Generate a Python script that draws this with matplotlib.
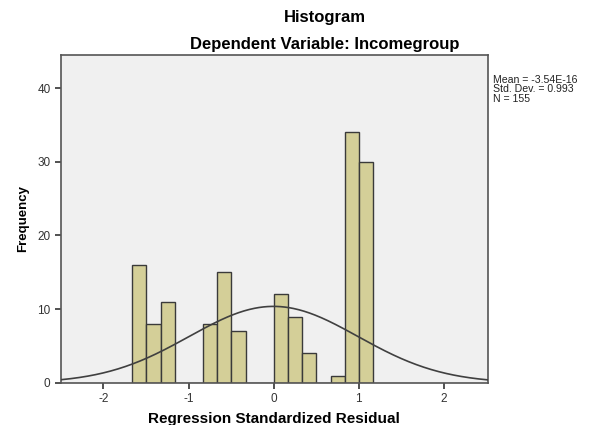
import numpy as np
import matplotlib
matplotlib.use("Agg")
import matplotlib.pyplot as plt

plt.rcParams['font.family'] = ['Liberation Sans', 'DejaVu Sans']
plt.rcParams['axes.unicode_minus'] = False

# histogram counts (bin width ~1/6)
first_edge = -1.662
bin_width = 0.1667
counts = [16, 8, 11, 0, 0, 8, 15, 7, 0, 0, 12, 9, 4, 0, 1, 34, 30]
mean = -3.54e-16
std = 0.993
n = 155
stats_lines = ['Mean = -3.54E-16', 'Std. Dev. = 0.993', 'N = 155']

edges = first_edge + bin_width * np.arange(len(counts) + 1)

fig = plt.figure(figsize=(5.92, 4.25), dpi=100)
ax = fig.add_axes([0.103, 0.099, 0.721, 0.772])
ax.set_facecolor('#f0f0f0')

ax.bar(edges[:-1], counts, width=bin_width, align='edge',
       color='#d4cf98', edgecolor='#3a3a3a', linewidth=1.0, zorder=2)

xs = np.linspace(-2.5, 2.55, 400)
pdf = np.exp(-0.5 * ((xs - mean) / std) ** 2) / (std * np.sqrt(2 * np.pi))
ax.plot(xs, n * bin_width * pdf, color='#404040', linewidth=1.2, zorder=3)

ax.set_xlim(-2.5, 2.52)
ax.set_ylim(0, 44.5)
ax.set_xticks([-2, -1, 0, 1, 2])
ax.set_yticks([0, 10, 20, 30, 40])
ax.tick_params(labelsize=8.5, colors='#333333', length=4, width=1.2)
for s in ax.spines.values():
    s.set_color('#555555')
    s.set_linewidth(1.2)

ax.set_xlabel('Regression Standardized Residual', fontsize=11, fontweight='bold', labelpad=5)
ax.set_ylabel('Frequency', fontsize=9.5, fontweight='bold', labelpad=6)

fig.text(0.549, 0.958, 'Histogram', ha='center', va='center', fontsize=12, fontweight='bold')
fig.text(0.549, 0.896, 'Dependent Variable: Incomegroup', ha='center', va='center',
         fontsize=12, fontweight='bold')
# legend-like stats block, one line every ~9.3 px
for i, line in enumerate(stats_lines):
    fig.text(0.833, 0.812 - i * 0.022, line, ha='left', va='center',
             fontsize=7.6, color='#222222')

fig.savefig('out.png', dpi=100)
